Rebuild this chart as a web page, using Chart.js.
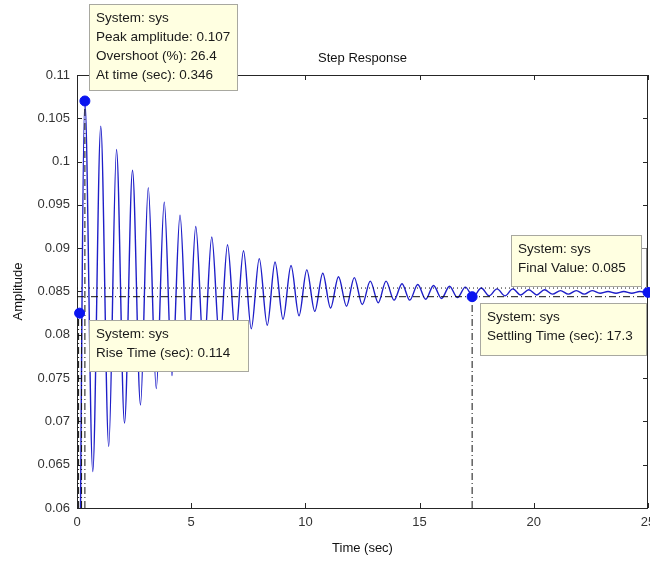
<!DOCTYPE html>
<html>
<head>
<meta charset="utf-8">
<script src="https://cdn.jsdelivr.net/npm/chart.js@4.4.1/dist/chart.umd.min.js"></script>
<style>
    html, body { margin: 0; padding: 0; background: #fff; }
    #wrap { width: 650px; height: 561px; }
</style>
</head>
<body>
<div id="wrap"><canvas id="stepChart" width="650" height="561"></canvas></div>
<script>
//---------------------------------------------------------------------
// DONNÉES
//---------------------------------------------------------------------
const xTicks = [0, 5, 10, 15, 20, 25];
const yTicks = [0.06, 0.065, 0.07, 0.075, 0.08, 0.085, 0.09, 0.095, 0.1, 0.105, 0.11];

const startTime = 0;
const startValue = 0;

const peakTimes = [0.346, 1.04, 1.73, 2.43, 3.12, 3.82, 4.51, 5.20, 5.90, 6.59, 7.29, 7.98,
    8.67, 9.37, 10.06, 10.76, 11.45, 12.14, 12.84, 13.53, 14.23, 14.92, 15.61, 16.31,
    17.00, 17.70, 18.39, 19.08, 19.78, 20.47, 21.17, 21.86, 22.55, 23.25, 23.94, 24.64];
const peakValues = [0.1070, 0.1041, 0.1014, 0.0990, 0.0970, 0.0953, 0.0938, 0.0925, 0.0913, 0.0904, 0.0897, 0.0888,
    0.0884, 0.0880, 0.0875, 0.0871, 0.0867, 0.0866, 0.0862, 0.0862, 0.0859, 0.0858, 0.0857, 0.0856,
    0.0855, 0.0854, 0.0853, 0.0853, 0.0852, 0.0852, 0.0851, 0.0851, 0.0851, 0.0850, 0.0850, 0.0850];

const troughTimes = [0.69, 1.39, 2.08, 2.78, 3.47, 4.16, 4.86, 5.55, 6.25, 6.94, 7.63, 8.33,
    9.02, 9.72, 10.41, 11.10, 11.80, 12.49, 13.19, 13.88, 14.57, 15.27, 15.96, 16.66,
    17.35, 18.04, 18.74, 19.43, 20.13, 20.82, 21.51, 22.21, 22.90, 23.60, 24.29, 25.0];
const troughValues = [0.0642, 0.0671, 0.0698, 0.0719, 0.0738, 0.0753, 0.0767, 0.0779, 0.0790, 0.0799, 0.0807, 0.0811,
    0.0818, 0.0822, 0.0827, 0.0831, 0.0833, 0.0835, 0.0837, 0.0840, 0.0840, 0.0841, 0.0842, 0.0843,
    0.0844, 0.0845, 0.0845, 0.0846, 0.0846, 0.0847, 0.0847, 0.0847, 0.0848, 0.0848, 0.0848, 0.0848];

// marqueurs : pic, temps de montée, temps d'établissement, valeur finale
const markerTimes = [0.346, 0.114, 17.3, 25];
const markerValues = [0.107, 0.0825, 0.0844, 0.0849];

// lignes de repère
const upperLevel = 0.0854;
const lowerLevel = 0.0844;
const riseLineTimes = [0.07, 0.2];

const annotations = [
    ["System: sys", "Peak amplitude: 0.107", "Overshoot (%): 26.4", "At time (sec): 0.346"],
    ["System: sys", "Rise Time (sec): 0.114"],
    ["System: sys", "Final Value: 0.085"],
    ["System: sys", "Settling Time (sec): 17.3"]
];

//---------------------------------------------------------------------
// CONSTRUCTION DES SÉRIES
//---------------------------------------------------------------------
const response = [{ x: startTime, y: startValue }];
for (let i = 0; i < peakTimes.length; i++) {
    response.push({ x: peakTimes[i], y: peakValues[i] });
    response.push({ x: troughTimes[i], y: troughValues[i] });
}

const yMin = yTicks[0];
const yMax = yTicks[yTicks.length - 1];
const xMax = xTicks[xTicks.length - 1];

const refLine = (pts, dash) => ({
    type: 'line',
    data: pts,
    borderColor: '#111',
    borderWidth: 1,
    borderDash: dash,
    pointRadius: 0,
    fill: false,
    order: 1
});

const datasets = [
    {
        type: 'line',
        data: response,
        borderColor: '#1e1ec8',
        borderWidth: 1.4,
        pointRadius: 0,
        cubicInterpolationMode: 'monotone',
        fill: false,
        order: 2
    },
    refLine([{ x: 0, y: upperLevel }, { x: xMax, y: upperLevel }], [1, 3]),
    refLine([{ x: 0, y: lowerLevel }, { x: xMax, y: lowerLevel }], [7, 3, 1, 3]),
    refLine([{ x: markerTimes[0], y: yMin }, { x: markerTimes[0], y: markerValues[0] }], [7, 3, 1, 3]),
    refLine([{ x: riseLineTimes[0], y: yMin }, { x: riseLineTimes[0], y: markerValues[1] }], [7, 3, 1, 3]),
    refLine([{ x: riseLineTimes[1], y: yMin }, { x: riseLineTimes[1], y: markerValues[1] }], [7, 3, 1, 3]),
    refLine([{ x: markerTimes[2], y: yMin }, { x: markerTimes[2], y: markerValues[2] }], [7, 3, 1, 3]),
    {
        type: 'scatter',
        data: markerTimes.map((t, i) => ({ x: t, y: markerValues[i] })),
        backgroundColor: '#0a14f0',
        borderColor: '#0a14f0',
        pointRadius: 5,
        clip: false,
        order: 0
    }
];

//---------------------------------------------------------------------
// PLUGIN : cadre, graduations internes, textes, bulles
//---------------------------------------------------------------------
const matlabDecor = {
    id: 'matlabDecor',
    beforeDatasetsDraw(chart) {
        const { ctx, chartArea: a, scales } = chart;
        ctx.save();
        ctx.strokeStyle = '#262626';
        ctx.lineWidth = 1;

        // cadre
        ctx.strokeRect(Math.round(a.left) + 0.5, Math.round(a.top) + 0.5,
            Math.round(a.right - a.left) - 1, Math.round(a.bottom - a.top));

        // graduations vers l'intérieur
        ctx.beginPath();
        xTicks.forEach(v => {
            const px = Math.round(scales.x.getPixelForValue(v)) + 0.5;
            ctx.moveTo(px, a.bottom); ctx.lineTo(px, a.bottom - 5);
            ctx.moveTo(px, a.top); ctx.lineTo(px, a.top + 5);
        });
        yTicks.forEach(v => {
            const py = Math.round(scales.y.getPixelForValue(v)) + 0.5;
            ctx.moveTo(a.left, py); ctx.lineTo(a.left + 5, py);
            ctx.moveTo(a.right, py); ctx.lineTo(a.right - 5, py);
        });
        ctx.stroke();

        // titres
        ctx.fillStyle = '#111';
        ctx.font = '13px "Liberation Sans", Arial, sans-serif';
        ctx.textAlign = 'center';
        ctx.textBaseline = 'middle';
        ctx.fillText('Step Response', (a.left + a.right) / 2, 58);
        ctx.fillText('Time (sec)', (a.left + a.right) / 2, 548);
        ctx.save();
        ctx.translate(18, (a.top + a.bottom) / 2);
        ctx.rotate(-Math.PI / 2);
        ctx.fillText('Amplitude', 0, 0);
        ctx.restore();
        ctx.restore();
    },
    afterDraw(chart) {
        const { ctx } = chart;
        ctx.save();
        ctx.lineWidth = 1;
        const boxes = [
            { x: 89, y: 4, w: 148, h: 86 },
            { x: 89, y: 320, w: 159, h: 51 },
            { x: 511, y: 235, w: 130, h: 51 },
            { x: 480, y: 303, w: 166, h: 52 }
        ];
        // petit trait de liaison vers la valeur finale
        ctx.strokeStyle = '#888';
        ctx.beginPath();
        ctx.moveTo(641, 248.5); ctx.lineTo(646.5, 248.5); ctx.lineTo(646.5, 288);
        ctx.stroke();

        ctx.font = '13.5px "Liberation Sans", Arial, sans-serif';
        ctx.textAlign = 'left';
        ctx.textBaseline = 'middle';
        boxes.forEach((b, i) => {
            ctx.fillStyle = '#ffffe1';
            ctx.fillRect(b.x, b.y, b.w, b.h);
            ctx.strokeStyle = '#a8a8a0';
            ctx.strokeRect(b.x + 0.5, b.y + 0.5, b.w, b.h);
            ctx.fillStyle = '#1a1a1a';
            annotations[i].forEach((line, j) => {
                ctx.fillText(line, b.x + 7, b.y + 14 + j * 19);
            });
        });
        ctx.restore();
    }
};

//---------------------------------------------------------------------
// GRAPHIQUE
//---------------------------------------------------------------------
new Chart(document.getElementById('stepChart'), {
    data: { datasets: datasets },
    plugins: [matlabDecor],
    options: {
        responsive: false,
        animation: false,
        layout: { autoPadding: false, padding: { top: 75, right: 2, left: 0, bottom: 0 } },
        plugins: {
            legend: { display: false },
            tooltip: { enabled: false },
            title: { display: false }
        },
        scales: {
            x: {
                type: 'linear',
                min: 0,
                max: xMax,
                afterBuildTicks: s => { s.ticks = xTicks.map(v => ({ value: v })); },
                afterFit: s => { s.height = 53; s.paddingLeft = 0; s.paddingRight = 0; },
                ticks: {
                    color: '#333',
                    font: { family: '"Liberation Sans", Arial', size: 13 },
                    padding: 7,
                    maxRotation: 0,
                    autoSkip: false,
                    callback: v => String(v)
                },
                grid: { drawOnChartArea: false, drawTicks: false },
                border: { display: false }
            },
            y: {
                type: 'linear',
                min: yMin,
                max: yMax,
                afterBuildTicks: s => { s.ticks = yTicks.map(v => ({ value: v })); },
                afterFit: s => { s.width = 77; s.paddingTop = 0; s.paddingBottom = 0; },
                ticks: {
                    color: '#333',
                    font: { family: '"Liberation Sans", Arial', size: 13 },
                    padding: 7,
                    autoSkip: false,
                    callback: v => String(Number(v.toFixed(3)))
                },
                grid: { drawOnChartArea: false, drawTicks: false },
                border: { display: false }
            }
        }
    }
});
</script>
</body>
</html>
